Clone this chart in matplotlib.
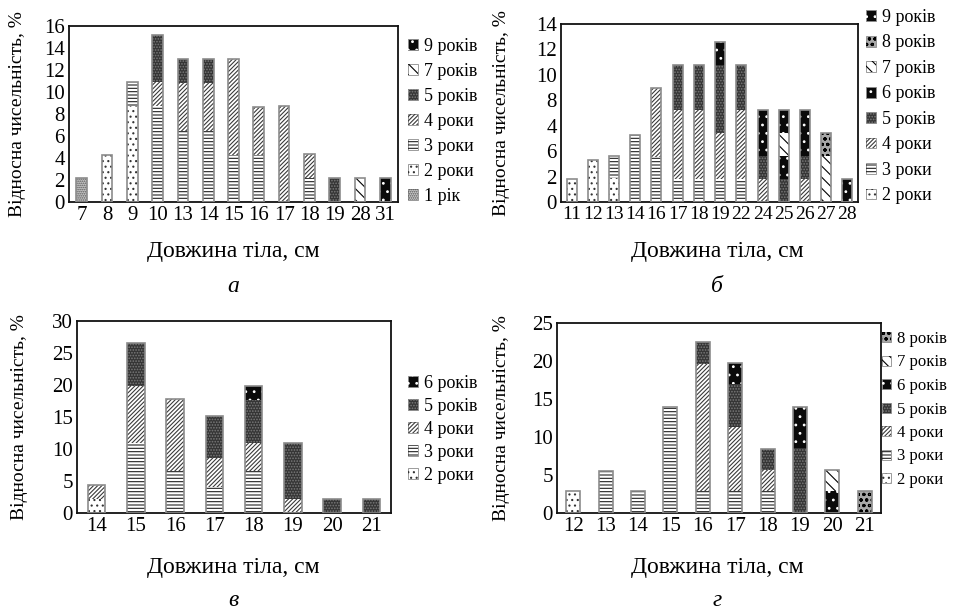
import matplotlib
matplotlib.use('Agg')
import matplotlib.pyplot as plt
from matplotlib.patches import Patch
import numpy as np

plt.rcParams['font.family'] = ['Liberation Serif', 'DejaVu Serif']
plt.rcParams['hatch.linewidth'] = 0.8

# ---------------- data ----------------
# Panel а
a_lengths = ['7', '8', '9', '10', '13', '14', '15', '16', '17', '18', '19', '28', '31']
a_1_rik   = [2.2, 0, 0, 0, 0, 0, 0, 0, 0, 0, 0, 0, 0]
a_2_roky  = [0, 4.3, 8.7, 0, 0, 0, 0, 0, 0, 0, 0, 0, 0]
a_3_roky  = [0, 0, 2.2, 8.7, 6.5, 6.5, 4.3, 4.3, 0, 2.2, 0, 0, 0]
a_4_roky  = [0, 0, 0, 2.2, 4.3, 4.3, 8.7, 4.3, 8.7, 2.2, 0, 0, 0]
a_5_rokiv = [0, 0, 0, 4.3, 2.2, 2.2, 0, 0, 0, 0, 2.2, 0, 0]
a_7_rokiv = [0, 0, 0, 0, 0, 0, 0, 0, 0, 0, 0, 2.2, 0]
a_9_rokiv = [0, 0, 0, 0, 0, 0, 0, 0, 0, 0, 0, 0, 2.2]

# Panel б
b_lengths = ['11', '12', '13', '14', '16', '17', '18', '19', '22', '24', '25', '26', '27', '28']
b_2_roky  = [1.8, 3.3, 1.9, 0, 0, 0, 0, 0, 0, 0, 0, 0, 0, 0]
b_3_roky  = [0, 0, 1.7, 5.3, 3.5, 1.8, 1.8, 1.8, 1.8, 0, 0, 0, 0, 0]
b_4_roky  = [0, 0, 0, 0, 5.5, 5.4, 5.4, 3.6, 5.4, 1.8, 0, 1.8, 0, 0]
b_5_rokiv = [0, 0, 0, 0, 0, 3.6, 3.6, 5.4, 3.6, 1.8, 1.8, 1.8, 0, 0]
b_6_rokiv = [0, 0, 0, 0, 0, 0, 0, 1.8, 0, 3.6, 1.8, 3.6, 0, 0]
b_7_rokiv = [0, 0, 0, 0, 0, 0, 0, 0, 0, 0, 1.8, 0, 3.6, 0]
b_8_rokiv = [0, 0, 0, 0, 0, 0, 0, 0, 0, 0, 0, 0, 1.8, 0]
b_9_rokiv = [0, 0, 0, 0, 0, 0, 0, 0, 0, 0, 1.8, 0, 0, 1.8]
b_ytick_labels = ['0', '2', '6', '4', '8', '10', '12', '14']

# Panel в
c_lengths = ['14', '15', '16', '17', '18', '19', '20', '21']
c_2_roky  = [2.2, 0, 0, 0, 0, 0, 0, 0]
c_3_roky  = [0, 10.9, 6.5, 4.1, 6.5, 0, 0, 0]
c_4_roky  = [2.2, 8.9, 11.3, 4.5, 4.4, 2.2, 0, 0]
c_5_rokiv = [0, 6.7, 0, 6.6, 6.8, 8.7, 2.2, 2.2]
c_6_rokiv = [0, 0, 0, 0, 2.2, 0, 0, 0]

# Panel г
d_lengths = ['12', '13', '14', '15', '16', '17', '18', '19', '20', '21']
d_2_roky  = [2.9, 0, 0, 0, 0, 0, 0, 0, 0, 0]
d_3_roky  = [0, 5.5, 2.9, 14.0, 2.9, 2.9, 2.9, 0, 0, 0]
d_4_roky  = [0, 0, 0, 0, 16.7, 8.4, 2.7, 0, 0, 0]
d_5_rokiv = [0, 0, 0, 0, 2.9, 5.7, 2.8, 8.5, 0, 0]
d_6_rokiv = [0, 0, 0, 0, 0, 2.7, 0, 5.5, 2.9, 0]
d_7_rokiv = [0, 0, 0, 0, 0, 0, 0, 0, 2.8, 0]
d_8_rokiv = [0, 0, 0, 0, 0, 0, 0, 0, 0, 2.9]

# ---------------- styles ----------------
STYLES = {
    '1 рік':   dict(face='#c8c8c8', hatch='........', hcol='#555555'),
    '2 роки':  dict(face='white',   hatch='...',      hcol='#333333'),
    '3 роки':  dict(face='white',   hatch='-----',    hcol='#222222'),
    '4 роки':  dict(face='white',   hatch='////////', hcol='#3a3a3a'),
    '5 років': dict(face='#353535', hatch='......',   hcol='#7a7a7a'),
    '6 років': dict(face='#0a0a0a', hatch='..',       hcol='#ffffff'),
    '7 років': dict(face='white',   hatch='\\\\\\',   hcol='#000000'),
    '8 років': dict(face='#a8a8a8', hatch='ooo',      hcol='#000000'),
    '9 років': dict(face='#0a0a0a', hatch='..',       hcol='#ffffff'),
}
EDGE = '#8c8c8c'

fig = plt.figure(figsize=(9.56, 6.15), dpi=100)
W, H = 956.0, 615.0


def px_axes(l, t, r, b):
    return fig.add_axes([l / W, 1 - b / H, (r - l) / W, (b - t) / H])


def draw_panel(ax, lengths, series, ymax, ystep, width, tick_fs):
    x = np.arange(len(lengths))
    bottom = np.zeros(len(lengths))
    for name, vals in series:
        st = STYLES[name]
        v = np.array(vals, dtype=float)
        mask = v > 0
        ax.bar(x[mask], v[mask], width, bottom=bottom[mask], color=st['face'],
               edgecolor='none', linewidth=0, zorder=2)
        ax.bar(x[mask], v[mask], width, bottom=bottom[mask], fill=False,
               hatch=st['hatch'], edgecolor=st['hcol'], linewidth=0, zorder=3)
        bottom += v
    tot = bottom
    m = tot > 0
    ax.bar(x[m], tot[m], width, fill=False, edgecolor=EDGE, linewidth=1.2, zorder=4)
    ax.set_xlim(-0.5, len(lengths) - 0.5)
    ax.set_ylim(0, ymax)
    ax.set_yticks(np.arange(0, ymax + 0.01, ystep))
    ax.set_xticks(x)
    ax.set_xticklabels(lengths)
    ax.tick_params(length=0, labelsize=tick_fs, pad=3)
    for s in ax.spines.values():
        s.set_linewidth(1.3)
        s.set_color('#111111')


def add_legend(ax, names, x, y, fs, spacing):
    handles = []
    for n in names:
        st = STYLES[n]
        handles.append((Patch(facecolor=st['face'], edgecolor=EDGE, linewidth=0.6),
                        Patch(fill=False, hatch=st['hatch'], edgecolor=st['hcol'], linewidth=0)))
    ax.legend(handles, names, loc='upper left', bbox_to_anchor=(x / W, 1 - y / H),
              bbox_transform=fig.transFigure, frameon=False, fontsize=fs,
              handlelength=0.55, handleheight=0.55, handletextpad=0.35,
              labelspacing=spacing, borderpad=0, borderaxespad=0)


YLAB = 'Відносна чисельність, %'
XLAB = 'Довжина тіла, см'

# Panel а
ax_a = px_axes(69, 26, 398, 202)
draw_panel(ax_a, a_lengths,
           [('1 рік', a_1_rik), ('2 роки', a_2_roky), ('3 роки', a_3_roky),
            ('4 роки', a_4_roky), ('5 років', a_5_rokiv), ('7 років', a_7_rokiv),
            ('9 років', a_9_rokiv)], 16, 2, 0.42, 15)
add_legend(ax_a, ['9 років', '7 років', '5 років', '4 роки', '3 роки', '2 роки', '1 рік'],
           408, 38, 13, 0.44)
fig.text(18 / W, 1 - 114 / H, YLAB, rotation=90, ha='center', va='center', fontsize=14)
fig.text(233 / W, 1 - 252 / H, XLAB, ha='center', va='center', fontsize=17)
fig.text(233 / W, 1 - 286 / H, 'а', ha='center', va='center', fontsize=17, style='italic')

# Panel б
ax_b = px_axes(561, 24, 858, 202)
draw_panel(ax_b, b_lengths,
           [('2 роки', b_2_roky), ('3 роки', b_3_roky), ('4 роки', b_4_roky),
            ('5 років', b_5_rokiv), ('6 років', b_6_rokiv), ('7 років', b_7_rokiv),
            ('8 років', b_8_rokiv), ('9 років', b_9_rokiv)], 14, 2, 0.47, 15)
ax_b.set_yticklabels(b_ytick_labels)
ax_b.tick_params(axis='x', labelsize=14)
add_legend(ax_b, ['9 років', '8 років', '7 років', '6 років', '5 років', '4 роки', '3 роки', '2 роки'],
           866, 9, 13, 0.47)
fig.text(502 / W, 1 - 113 / H, YLAB, rotation=90, ha='center', va='center', fontsize=14)
fig.text(717 / W, 1 - 252 / H, XLAB, ha='center', va='center', fontsize=17)
fig.text(717 / W, 1 - 286 / H, 'б', ha='center', va='center', fontsize=17, style='italic')

# Panel в
ax_c = px_axes(77, 321, 391, 513)
draw_panel(ax_c, c_lengths,
           [('2 роки', c_2_roky), ('3 роки', c_3_roky), ('4 роки', c_4_roky),
            ('5 років', c_5_rokiv), ('6 років', c_6_rokiv)], 30, 5, 0.44, 15)
add_legend(ax_c, ['6 років', '5 років', '4 роки', '3 роки', '2 роки'],
           408, 375, 13, 0.33)
fig.text(20 / W, 1 - 417 / H, YLAB, rotation=90, ha='center', va='center', fontsize=14)
fig.text(233 / W, 1 - 568 / H, XLAB, ha='center', va='center', fontsize=17)
fig.text(233 / W, 1 - 601 / H, 'в', ha='center', va='center', fontsize=17, style='italic')

# Panel г
ax_d = px_axes(557, 323, 881, 513)
draw_panel(ax_d, d_lengths,
           [('2 роки', d_2_roky), ('3 роки', d_3_roky), ('4 роки', d_4_roky),
            ('5 років', d_5_rokiv), ('6 років', d_6_rokiv), ('7 років', d_7_rokiv),
            ('8 років', d_8_rokiv)], 25, 5, 0.43, 15)
add_legend(ax_d, ['8 років', '7 років', '6 років', '5 років', '4 роки', '3 роки', '2 роки'],
           882, 331, 12, 0.45)
fig.text(502 / W, 1 - 418 / H, YLAB, rotation=90, ha='center', va='center', fontsize=14)
fig.text(717 / W, 1 - 568 / H, XLAB, ha='center', va='center', fontsize=17)
fig.text(717 / W, 1 - 601 / H, 'г', ha='center', va='center', fontsize=17, style='italic')

fig.savefig('out.png', dpi=100)
